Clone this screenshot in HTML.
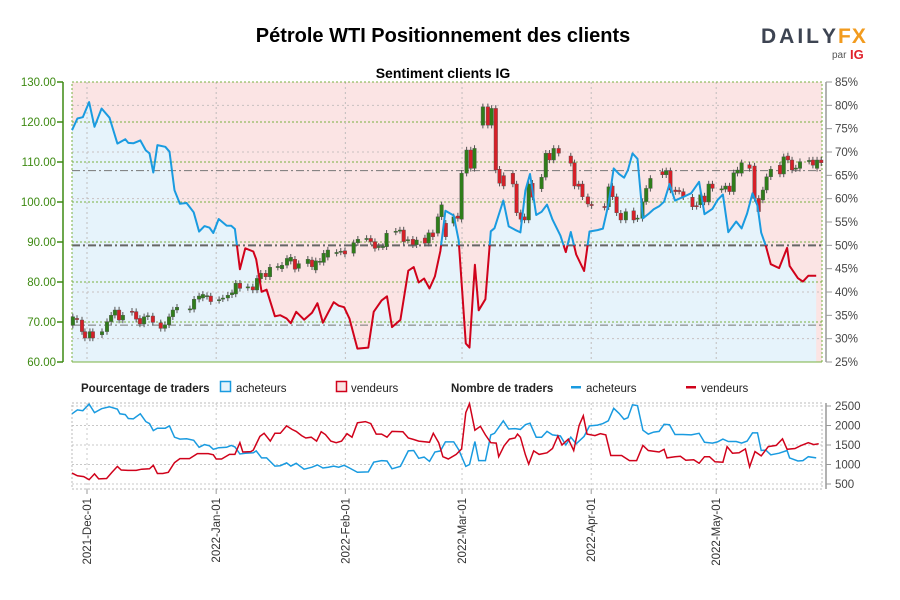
<!DOCTYPE html>
<html><head><meta charset="utf-8"><style>
body{margin:0;background:#fff;}
svg{display:block;font-family:"Liberation Sans",sans-serif;}
</style></head><body>
<svg id="chart" width="900" height="600" viewBox="0 0 900 600" xmlns="http://www.w3.org/2000/svg">
<text x="443" y="42" text-anchor="middle" font-size="20" font-weight="bold" fill="#000">Pétrole WTI Positionnement des clients</text>
<text x="443" y="78" text-anchor="middle" font-size="14" font-weight="bold" fill="#000">Sentiment clients IG</text>
<g>
<text x="761" y="43" font-size="21" font-weight="bold" letter-spacing="3" fill="#3d4452">DAIL</text>
<text x="822" y="43" font-size="21" font-weight="bold" letter-spacing="1" fill="#3d4452">Y</text>
<text x="838" y="43" font-size="21" font-weight="bold" letter-spacing="1" fill="#f29b1e">FX</text>
<text x="832" y="58" font-size="10" fill="#555">par</text>
<text x="850" y="59" font-size="13" font-weight="bold" fill="#e0202a">IG</text>
</g>
<g id="main"></g>
<g id="legend">
<text x="81" y="392" font-size="11.5" font-weight="bold" fill="#222">Pourcentage de traders</text>
<rect x="220.5" y="381.5" width="10" height="10" fill="#e6f3fb" stroke="#1a9be0" stroke-width="1.5"/>
<text x="236" y="392" font-size="11.5" fill="#222">acheteurs</text>
<rect x="336.5" y="381.5" width="10" height="10" fill="#fbe4e4" stroke="#d0021b" stroke-width="1.5"/>
<text x="351" y="392" font-size="11.5" fill="#222">vendeurs</text>
<text x="451" y="392" font-size="11.5" font-weight="bold" fill="#222">Nombre de traders</text>
<rect x="571" y="386" width="10" height="2.5" fill="#1a9be0"/>
<text x="586" y="392" font-size="11.5" fill="#222">acheteurs</text>
<rect x="686" y="386" width="10" height="2.5" fill="#d0021b"/>
<text x="701" y="392" font-size="11.5" fill="#222">vendeurs</text>
</g>
<g id="bottom"></g>
</svg>
<script>
// ---- data (days since 2021-12-01) ----
const monthDays = [0, 31, 62, 90, 121, 151];
const monthLabels = ["2021-Dec-01","2022-Jan-01","2022-Feb-01","2022-Mar-01","2022-Apr-01","2022-May-01"];
const priceTicks = [60,70,80,90,100,110,120,130];
const pctTicks = [25,30,35,40,45,50,55,60,65,70,75,80,85];
const countTicks = [500,1000,1500,2000,2500];

const longDays = [-3.6,-2.3,-1.0,0.5,1.8,3.5,5.4,7.3,7.9,9.2,9.9,11.1,12.8,14.1,15.0,15.9,16.9,18.8,19.8,21.0,22.3,23.9,25.6,26.9,28.2,29.4,30.3,31.6,33.5,34.6,35.5,36.7,38.0,39.9,40.6,41.9,43.1,45.1,46.4,47.9,48.9,50.2,52.1,54.0,55.3,56.6,57.9,59.2,60.4,61.7,63.0,64.9,67.5,68.8,70.7,72.0,73.2,75.2,77.1,78.4,79.6,80.9,82.2,83.5,84.8,86.0,88.0,89.2,90.9,91.8,93.1,94.0,95.6,96.9,97.8,99.9,101.2,102.7,104.0,105.2,106.3,107.8,109.1,110.4,111.7,113.6,114.9,116.1,117.4,119.3,120.6,122.5,123.8,125.1,126.4,127.7,128.9,129.8,130.9,132.1,133.4,134.7,136.0,137.3,138.5,139.8,141.1,143.0,145.0,146.9,148.2,150.1,151.3,152.6,153.9,155.8,157.1,158.4,159.7,160.9,161.8,162.9,164.1,166.1,168.0,168.6,170.6,171.8,173.1,175.0];
const longCounts = [2300,2400,2380,2550,2330,2430,2480,2420,2300,2280,2180,2170,2300,2100,2050,1870,1930,1930,1990,1700,1650,1660,1620,1440,1510,1480,1390,1430,1440,1490,1450,1270,1290,1300,1350,1170,1170,960,970,1040,960,1030,880,930,990,910,930,960,930,980,910,800,810,1060,1100,1090,890,950,1350,1360,1160,1190,1080,1320,1350,1580,1580,1380,950,1000,1590,1100,1100,1760,1800,2120,1910,1920,1900,2020,2060,1700,1700,1850,1760,1730,1500,1700,1530,1720,1990,2010,2050,2120,2440,2310,2160,2200,2530,2510,1880,1780,1830,1850,2030,2020,1770,1770,1760,1800,1570,1550,1580,1650,1590,1590,1550,1600,1810,1810,1360,1370,1250,1290,1360,1170,1090,1100,1200,1170];
const shortDays = [-3.6,-2.3,-0.8,0.5,1.8,2.8,4.7,6.0,7.3,8.2,9.9,11.8,13.1,15.0,15.9,16.9,18.2,19.5,21.0,22.3,24.6,26.5,29.1,30.3,31.0,32.3,34.2,35.5,36.7,37.4,39.3,39.9,41.5,42.5,44.0,45.1,46.4,47.9,49.2,50.2,51.5,52.5,53.8,55.1,56.2,57.2,58.5,59.8,61.1,62.4,63.6,64.9,66.8,68.1,69.4,70.7,72.0,73.2,75.8,77.1,78.4,79.6,82.2,83.1,84.4,85.4,86.7,88.6,89.9,90.9,91.8,93.1,94.4,95.6,96.9,98.2,98.8,100.1,101.4,102.7,103.3,104.0,105.2,106.0,107.2,108.5,110.4,111.7,113.0,114.0,115.5,116.8,118.1,119.1,120.0,121.9,123.2,124.5,125.7,128.3,130.2,131.9,133.4,134.7,137.3,138.5,139.2,141.1,142.4,143.7,145.6,146.9,148.2,149.4,150.7,152.6,153.6,154.9,156.5,158.0,159.0,160.3,161.8,163.5,165.4,166.9,168.0,169.9,171.2,173.1,174.4,175.6];
const shortCounts = [780,710,690,610,760,630,640,800,950,860,850,850,880,890,980,770,770,800,1050,1150,1150,1280,1280,1250,1140,1140,1260,1260,1560,1320,1330,1370,1720,1800,1600,1800,1800,1990,1900,1850,1740,1680,1700,1600,1840,1770,1600,1560,1600,1790,1700,2070,2100,2050,1780,1780,1700,1850,1840,1680,1640,1600,1570,1800,1560,1200,1140,1260,1400,2330,2560,1880,1980,1760,1560,1550,1200,1480,1650,1680,1780,1700,1250,1010,1350,1260,1300,1410,1730,1500,1650,1360,2000,2250,1780,1740,1790,1760,1230,1230,1100,1100,1490,1360,1320,1390,1170,1200,1210,1110,1120,1030,1200,1200,1070,1060,1460,1290,1300,1400,940,1330,1220,1460,1490,1660,1390,1410,1480,1560,1510,1530];

const candleDays = [-3.4,-2.4,-1.2,-0.5,0.7,1.4,3.6,4.8,5.8,6.7,7.7,8.6,10.8,11.8,12.7,13.7,14.6,15.8,17.7,18.7,19.7,20.6,21.6,24.7,25.7,26.9,27.8,28.8,29.7,31.7,32.6,33.8,34.8,35.7,36.7,38.6,39.8,40.8,41.7,42.9,43.9,45.8,46.8,48.0,48.9,49.9,50.8,53.0,54.0,54.9,55.9,56.8,57.8,59.9,60.9,61.9,64.0,65.0,67.1,68.1,69.1,70.0,71.0,71.9,74.1,75.1,76.0,77.0,78.2,79.1,81.1,82.0,83.0,84.2,85.1,86.1,88.0,89.0,89.9,91.1,92.1,93.0,95.0,96.2,97.1,98.1,99.0,100.0,102.2,103.1,104.1,105.0,106.0,106.9,109.1,110.1,111.0,112.0,113.2,116.1,117.0,118.0,118.9,120.2,121.1,124.2,125.2,126.1,127.1,128.1,129.3,131.2,132.1,133.3,134.2,135.2,138.1,139.0,140.0,141.2,142.1,143.1,145.3,146.3,147.2,148.2,149.2,150.1,152.3,153.2,154.2,155.2,156.1,157.1,159.0,160.2,161.2,162.2,163.1,164.1,166.3,167.2,168.2,169.2,170.1,171.1,173.3,174.2,175.2,176.2];
const opens  = [69.2,70.9,70.5,67.6,66.0,67.6,66.8,67.6,70.1,71.7,73.0,70.5,72.7,72.6,70.9,69.5,71.3,71.5,69.8,68.4,69.3,71.3,73.0,73.1,73.2,75.7,76.0,76.4,76.5,75.4,75.8,76.0,76.8,77.0,79.7,78.6,78.8,78.0,80.8,82.2,81.3,83.7,83.3,84.2,85.2,85.7,83.4,84.6,85.5,83.0,85.0,84.9,86.2,87.2,87.5,87.8,87.2,89.8,90.9,90.9,90.1,88.7,88.8,88.8,92.5,92.9,93.0,90.4,90.7,89.3,91.0,89.7,92.3,92.2,96.3,94.7,94.7,96.5,95.7,107.2,113.0,108.4,119.2,123.8,119.2,123.4,108.2,106.6,107.2,104.5,97.3,96.3,95.5,104.7,103.3,106.2,112.2,110.5,113.4,111.5,109.8,104.5,104.5,101.3,99.4,98.9,98.8,104.0,101.3,97.2,95.5,97.8,95.8,95.9,100.1,103.4,107.6,106.8,107.8,103.0,102.9,102.6,101.2,99.1,99.3,101.5,100.0,104.5,103.1,103.2,104.0,102.6,107.2,107.2,109.3,109.0,100.9,100.5,103.0,106.3,109.2,107.0,111.5,110.5,108.3,108.4,110.2,110.5,108.4,110.5];
const closes = [71.3,70.6,67.6,66.0,67.6,66.0,67.6,70.1,71.7,73.0,70.5,71.7,72.4,70.7,69.5,71.3,71.6,69.9,68.4,69.3,71.3,73.0,73.7,73.3,75.7,76.5,76.9,76.6,75.1,75.6,76.0,76.7,77.3,79.7,78.4,78.8,78.0,80.9,82.2,81.3,83.7,83.9,84.2,85.9,86.2,83.2,84.6,85.7,83.8,85.3,85.2,87.2,88.0,87.4,87.7,87.0,89.8,90.7,90.9,90.1,88.4,88.9,88.9,92.2,92.7,93.0,90.1,90.6,89.3,90.5,89.7,92.3,91.3,96.3,99.3,91.3,96.3,95.9,107.2,113.0,108.4,113.4,123.8,119.2,123.4,108.0,104.7,104.0,104.5,97.3,95.7,95.5,104.5,101.2,106.2,112.2,110.5,113.4,112.2,109.7,104.0,103.9,101.3,99.5,99.1,98.7,103.8,101.3,97.3,95.5,97.6,95.5,96.0,100.1,103.4,105.9,106.8,107.8,103.0,102.6,102.7,101.3,98.8,98.9,101.8,100.0,104.5,103.4,103.3,104.0,102.6,107.3,108.0,109.8,108.4,100.9,97.6,103.0,106.3,108.2,107.0,111.3,110.5,108.0,108.5,110.1,110.4,109.2,110.5,109.8];

// ---- scales ----
const X0 = 72, X1 = 822;
const xOf = d => 87 + d * 4.167;
const yPrice = p => 82 + (130 - p) * 4;
const yPct = q => 82 + (85 - q) * 280 / 60;
const yCnt = v => 484 - (v - 500) * 0.039;
const NS = "http://www.w3.org/2000/svg";
function mk(parent, tag, attrs) {
  const e = document.createElementNS(NS, tag);
  for (const k in attrs) e.setAttribute(k, attrs[k]);
  parent.appendChild(e);
  return e;
}
function interp(ds, vs, d) {
  if (d <= ds[0]) return vs[0];
  for (let i = 1; i < ds.length; i++) if (d <= ds[i]) { const t = (d - ds[i-1]) / (ds[i] - ds[i-1]); return vs[i-1] + t * (vs[i] - vs[i-1]); }
  return vs[vs.length - 1];
}
const main = document.getElementById('main');
const bottom = document.getElementById('bottom');
const svg = document.getElementById('chart');

// clip paths
const defs = mk(svg, 'defs', {});
const cpA = mk(defs, 'clipPath', {id: 'above'}); mk(cpA, 'rect', {x: 0, y: 0, width: 900, height: yPct(50)});
const cpB = mk(defs, 'clipPath', {id: 'below'}); mk(cpB, 'rect', {x: 0, y: yPct(50), width: 900, height: 600});
const cpP = mk(defs, 'clipPath', {id: 'plot'}); mk(cpP, 'rect', {x: X0, y: 82, width: X1 - X0, height: 280});

// background
const bg = mk(main, 'rect', {x: X0, y: 82, width: X1 - X0, height: 280, fill: '#fbe4e4'});



// percentage line
const n = Math.min(longDays.length, longCounts.length);
const pts = [];
for (let i = 0; i < n; i++) {
  const s = interp(shortDays, shortCounts, longDays[i]);
  const pct = longCounts[i] / (longCounts[i] + s) * 100;
  pts.push([xOf(longDays[i]), yPct(pct)]);
}
const lineD = 'M' + pts.map(p => p[0].toFixed(1) + ',' + p[1].toFixed(1)).join('L');
const area = mk(main, 'path', {d: lineD + `L${pts[n-1][0].toFixed(1)},362L${pts[0][0].toFixed(1)},362Z`, fill: '#e6f3fb', 'clip-path': 'url(#plot)'});



// grid
for (const q of [30, 40, 60, 70, 80]) {
  const g = mk(main, 'line', {x1: X0, x2: X1, y1: yPct(q), y2: yPct(q), stroke: '#c8c0c0', 'stroke-dasharray': '2,3', 'stroke-width': 1});
  
  
}
for (const p of priceTicks) {
  const g = mk(main, 'line', {x1: X0, x2: X1, y1: yPrice(p), y2: yPrice(p), stroke: '#7ab040', 'stroke-dasharray': '2,2', 'stroke-width': 1});
  
  
}
for (const d of monthDays) {
  const g = mk(main, 'line', {x1: xOf(d), x2: xOf(d), y1: 82, y2: 362, stroke: '#c0bcbc', 'stroke-dasharray': '2,3'});
  
  
}
for (const q of [66, 32.9]) {
  const g = mk(main, 'line', {x1: X0, x2: X1, y1: yPct(q), y2: yPct(q), stroke: '#777', 'stroke-dasharray': '8,3,2,3', 'stroke-width': 1});
  
  
}
const mid = mk(main, 'line', {x1: X0, x2: X1, y1: yPct(50), y2: yPct(50), stroke: '#666', 'stroke-dasharray': '8,3,2,3', 'stroke-width': 2});


const border = mk(main, 'rect', {x: X0, y: 82, width: X1 - X0, height: 280, fill: 'none', stroke: '#7ab040', 'stroke-dasharray': '2,2'});



// candles
const cn = Math.min(candleDays.length, opens.length, closes.length);
for (let i = 0; i < cn; i++) {
  const x = xOf(candleDays[i]), o = opens[i], c = closes[i];
  const hi = Math.max(o, c) + 0.8, lo = Math.min(o, c) - 0.8;
  const w = mk(main, 'line', {x1: x, x2: x, y1: yPrice(hi), y2: yPrice(lo), stroke: '#555', 'stroke-width': 1});
  
  
  const top = yPrice(Math.max(o, c)), h = Math.max(1.2, Math.abs(o - c) * 4);
  const b = mk(main, 'rect', {x: x - 1.8, y: top, width: 3.6, height: h, fill: c >= o ? '#2f7d1a' : '#d62028', stroke: '#555', 'stroke-width': 0.4});
  
  
}

// pct line colored
const lb = mk(main, 'path', {d: lineD, fill: 'none', stroke: '#1a9be0', 'stroke-width': 2, 'clip-path': 'url(#above)', 'stroke-linejoin': 'round'});


const lr = mk(main, 'path', {d: lineD, fill: 'none', stroke: '#d0021b', 'stroke-width': 2, 'clip-path': 'url(#below)', 'stroke-linejoin': 'round'});



// left axis
const la = mk(main, 'line', {x1: 63, x2: 63, y1: 82, y2: 362, stroke: '#3d8a12', 'stroke-width': 1.5});


for (const p of priceTicks) {
  const t = mk(main, 'line', {x1: 57, x2: 63, y1: yPrice(p), y2: yPrice(p), stroke: '#3d8a12', 'stroke-width': 1.5});
  
  
  const tx = mk(main, 'text', {x: 56, y: yPrice(p) + 4, 'text-anchor': 'end', 'font-size': 11.5, fill: '#3d8a12'});
  tx.textContent = p.toFixed(2);
  
  
}
// right axis
const ra = mk(main, 'line', {x1: 826, x2: 826, y1: 82, y2: 362, stroke: '#999', 'stroke-width': 1.5});


for (const q of pctTicks) {
  const t = mk(main, 'line', {x1: 826, x2: 832, y1: yPct(q), y2: yPct(q), stroke: '#999', 'stroke-width': 1});
  
  
  const tx = mk(main, 'text', {x: 835, y: yPct(q) + 4, 'font-size': 11.5, fill: '#444'});
  tx.textContent = q + '%';
  
  
}

// ---- bottom panel ----
for (const v of countTicks) {
  const g = mk(bottom, 'line', {x1: X0, x2: X1, y1: yCnt(v), y2: yCnt(v), stroke: '#c8c8c8', 'stroke-dasharray': '2,2'});
  
  
  const t = mk(bottom, 'line', {x1: 826, x2: 831, y1: yCnt(v), y2: yCnt(v), stroke: '#999'});
  
  
  const tx = mk(bottom, 'text', {x: 835, y: yCnt(v) + 4, 'font-size': 11.5, fill: '#444'});
  tx.textContent = v;
  
  
}
const bra = mk(bottom, 'line', {x1: 826, x2: 826, y1: 403, y2: 489, stroke: '#999', 'stroke-width': 1.5});


const bb = mk(bottom, 'rect', {x: X0, y: 403, width: X1 - X0, height: 86, fill: 'none', stroke: '#bbb', 'stroke-dasharray': '2,2'});


for (let i = 0; i < monthDays.length; i++) {
  const x = xOf(monthDays[i]);
  const g = mk(bottom, 'line', {x1: x, x2: x, y1: 403, y2: 489, stroke: '#c8c8c8', 'stroke-dasharray': '2,3'});
  
  
  const t = mk(bottom, 'line', {x1: x, x2: x, y1: 489, y2: 494, stroke: '#999'});
  
  
  const tx = mk(bottom, 'text', {x: 0, y: 0, 'text-anchor': 'end', 'font-size': 11.5, fill: '#333', transform: `translate(${x + 4},498) rotate(-90)`});
  tx.textContent = monthLabels[i];
  
  
}
function cntPath(ds, vs) {
  const m = Math.min(ds.length, vs.length);
  let d = '';
  for (let i = 0; i < m; i++) d += (i ? 'L' : 'M') + xOf(ds[i]).toFixed(1) + ',' + yCnt(vs[i]).toFixed(1);
  return d;
}
const cl = mk(bottom, 'path', {d: cntPath(longDays, longCounts), fill: 'none', stroke: '#1a9be0', 'stroke-width': 1.5});


const cs = mk(bottom, 'path', {d: cntPath(shortDays, shortCounts), fill: 'none', stroke: '#d0021b', 'stroke-width': 1.5});


</script>
</body></html>
